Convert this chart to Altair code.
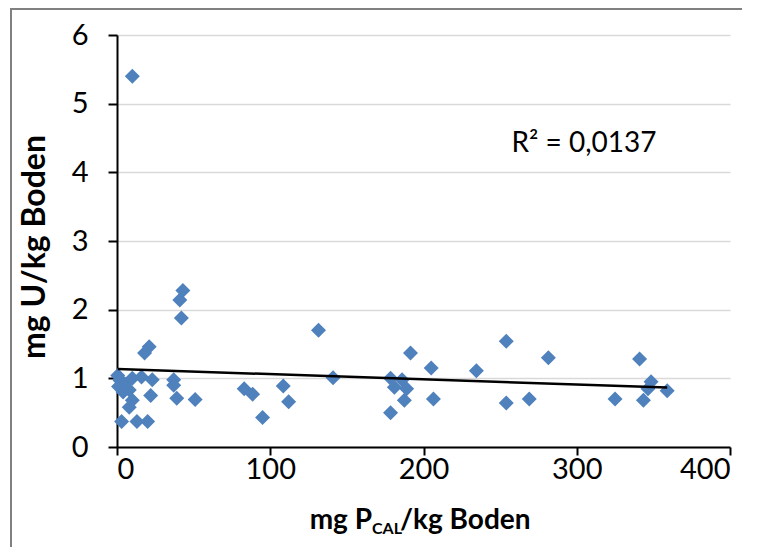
import altair as alt
import pandas as pd

# Data
p_cal = [0.5, 2, 1, 5, 4, 8, 10, 16, 23, 22, 10, 8, 3, 13, 20, 37, 37, 39, 51, 18, 21, 41, 43, 42, 10,
         83, 88.5, 95, 108.5, 112, 131.5, 141, 178.5, 186, 181, 189, 187.5, 178.5, 191.5, 205, 206.5,
         234.5, 254, 254, 269, 281.5, 325, 341, 348.5, 346.5, 343.5, 359]
u_val = [1.04, 0.97, 0.88, 0.92, 0.80, 0.83, 1.0, 1.02, 0.98, 0.75, 0.68, 0.58, 0.37, 0.37, 0.37, 0.98, 0.90, 0.71, 0.69, 1.37, 1.46, 2.14, 2.28, 1.88, 5.4,
         0.85, 0.77, 0.43, 0.89, 0.66, 1.70, 1.01, 1.0, 0.98, 0.87, 0.85, 0.68, 0.50, 1.37, 1.15, 0.70,
         1.11, 1.54, 0.64, 0.70, 1.30, 0.70, 1.28, 0.95, 0.85, 0.68, 0.82]
x_ticks = [0, 100, 200, 300, 400]
y_ticks = [0, 1, 2, 3, 4, 5, 6]
r2_label = "R² = 0,0137"
y_title = "mg U/kg Boden"
x_title_parts = ["mg P", "CAL", "/kg Boden"]

df = pd.DataFrame({"x": p_cal, "y": u_val})
FONT = "Lato"

base = alt.Chart(df)

xscale = alt.Scale(domain=[0, 400], nice=False)
yscale = alt.Scale(domain=[0, 6], nice=False)

points = base.mark_point(shape="diamond", filled=True, size=225, color="#4F81BD", opacity=1).encode(
    x=alt.X("x:Q", scale=xscale,
            axis=alt.Axis(values=x_ticks, format="d", title=None, grid=False, domainColor="black",
                          domainWidth=2, tickColor="black", tickWidth=2, tickSize=8, labelFontSize=29,
                          labelFont=FONT, labelColor="black", labelPadding=0)),
    y=alt.Y("y:Q", scale=yscale,
            axis=alt.Axis(values=y_ticks, format="d", title=None, grid=True, gridColor="#d9d9d9",
                          gridWidth=1.5, domainColor="black", domainWidth=2, tickColor="black",
                          tickWidth=2, tickSize=9, labelFontSize=29, labelFont=FONT,
                          labelColor="black", labelPadding=20)),
)

trend = base.transform_regression("x", "y").mark_line(color="black", strokeWidth=2.5).encode(
    x=alt.X("x:Q", scale=xscale), y=alt.Y("y:Q", scale=yscale)
)

r2 = alt.Chart(pd.DataFrame({"t": [r2_label]})).mark_text(
    font=FONT, fontSize=28, color="black", align="center", baseline="middle"
).encode(text="t:N", x=alt.value(467), y=alt.value(109))

ytitle = alt.Chart(pd.DataFrame({"t": [y_title]})).mark_text(
    font=FONT, fontSize=32, fontWeight="bold", color="black", angle=270, align="center", baseline="middle"
).encode(text="t:N", x=alt.value(-82), y=alt.value(212))

xt1 = alt.Chart(pd.DataFrame({"t": [x_title_parts[0]]})).mark_text(
    font=FONT, fontSize=28, fontWeight="bold", color="black", align="right", baseline="alphabetic"
).encode(text="t:N", x=alt.value(255), y=alt.value(494))
xt2 = alt.Chart(pd.DataFrame({"t": [x_title_parts[1]]})).mark_text(
    font=FONT, fontSize=16, fontWeight="bold", color="black", align="left", baseline="alphabetic"
).encode(text="t:N", x=alt.value(255), y=alt.value(499))
xt3 = alt.Chart(pd.DataFrame({"t": [x_title_parts[2]]})).mark_text(
    font=FONT, fontSize=28, fontWeight="bold", color="black", align="left", baseline="alphabetic"
).encode(text="t:N", x=alt.value(283), y=alt.value(494))

frame = alt.Chart(pd.DataFrame({"a": [0]})).mark_rect(
    fillOpacity=0, stroke="#808080", strokeWidth=2
).encode(x=alt.value(-106), x2=alt.value(700), y=alt.value(-26), y2=alt.value(700))

chart = alt.layer(points, trend, r2, ytitle, xt1, xt2, xt3, frame).properties(
    width=613, height=412,
    autosize=alt.AutoSizeParams(type="none"),
    padding={"left": 109, "top": 27, "right": 12, "bottom": 100},
).configure_view(stroke=None)

chart.save("out.html", embed_options={"renderer": "svg", "actions": False})
